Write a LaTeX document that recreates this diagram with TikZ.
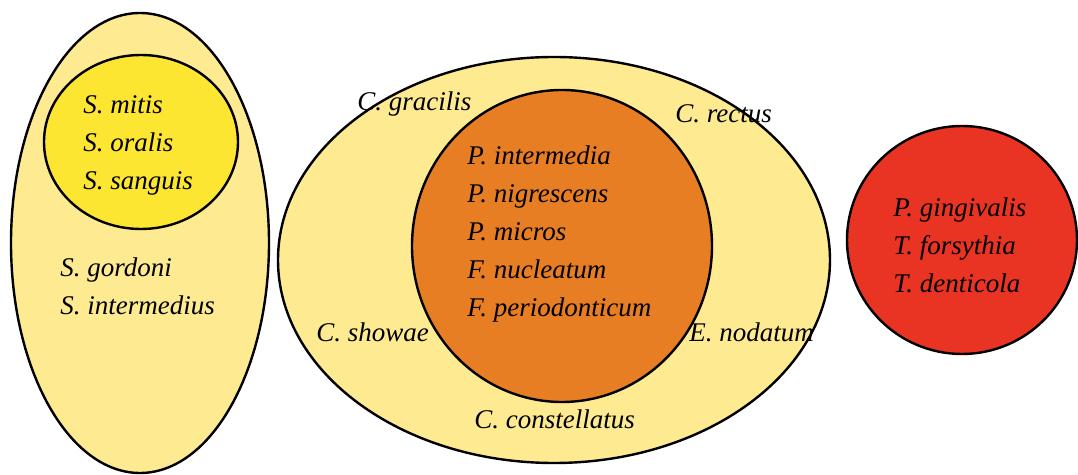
\documentclass[tikz,border=0pt]{standalone}
\usepackage{fontspec}
\setmainfont{Liberation Serif}
\usetikzlibrary{positioning, shapes.geometric}

\definecolor{paleyellow}{RGB}{254,234,145}
\definecolor{brightyellow}{RGB}{253,230,50}
\definecolor{orangecx}{RGB}{232,126,36}
\definecolor{redcx}{RGB}{233,52,36}

\tikzset{
  complex/.style={draw, ellipse, line width=1.2pt, inner sep=0pt},
  species/.style={anchor=west, align=left, inner sep=0pt, font=\fontsize{13.5}{19}\selectfont\itshape}
}

\begin{document}
\begin{tikzpicture}[x=0.5pt, y=-0.5pt]
    \useasboundingbox (0,0) rectangle (1078,475);

    % complexes
    \node[complex, fill=paleyellow, minimum width=129pt, minimum height=230pt] (greenc) at (140,243) {};
    \node[complex, fill=brightyellow, minimum width=97pt, minimum height=87pt] (yellowc) at (141,142) {};
    \node[complex, fill=paleyellow, minimum width=276pt, minimum height=203pt] (purplec) at (554,260) {};
    \node[complex, fill=orangecx, minimum width=150pt, minimum height=156pt] (orangec) at (562,246) {};
    \node[complex, fill=redcx, minimum width=115pt, minimum height=114pt] (redc) at (962,240) {};

    % species
    \node[species] (yellowsp) at (83,145) {S. mitis\\S. oralis\\S. sanguis};
    \node[species] (greensp) at (60,286) {S. gordoni\\S. intermedius};
    \node[species] (gracilis) at (357,104) {C. gracilis};
    \node[species] (rectus) at (675,114) {C. rectus};
    \node[species] (orangesp) at (467,234) {P. intermedia\\P. nigrescens\\P. micros\\F. nucleatum\\F. periodonticum};
    \node[species] (showae) at (316,332) {C. showae};
    \node[species] (nodatum) at (689,332) {E. nodatum};
    \node[species] (constellatus) at (474,419) {C. constellatus};
    \node[species] (redsp) at (893,245) {P. gingivalis\\T. forsythia\\T. denticola};
\end{tikzpicture}
\end{document}
